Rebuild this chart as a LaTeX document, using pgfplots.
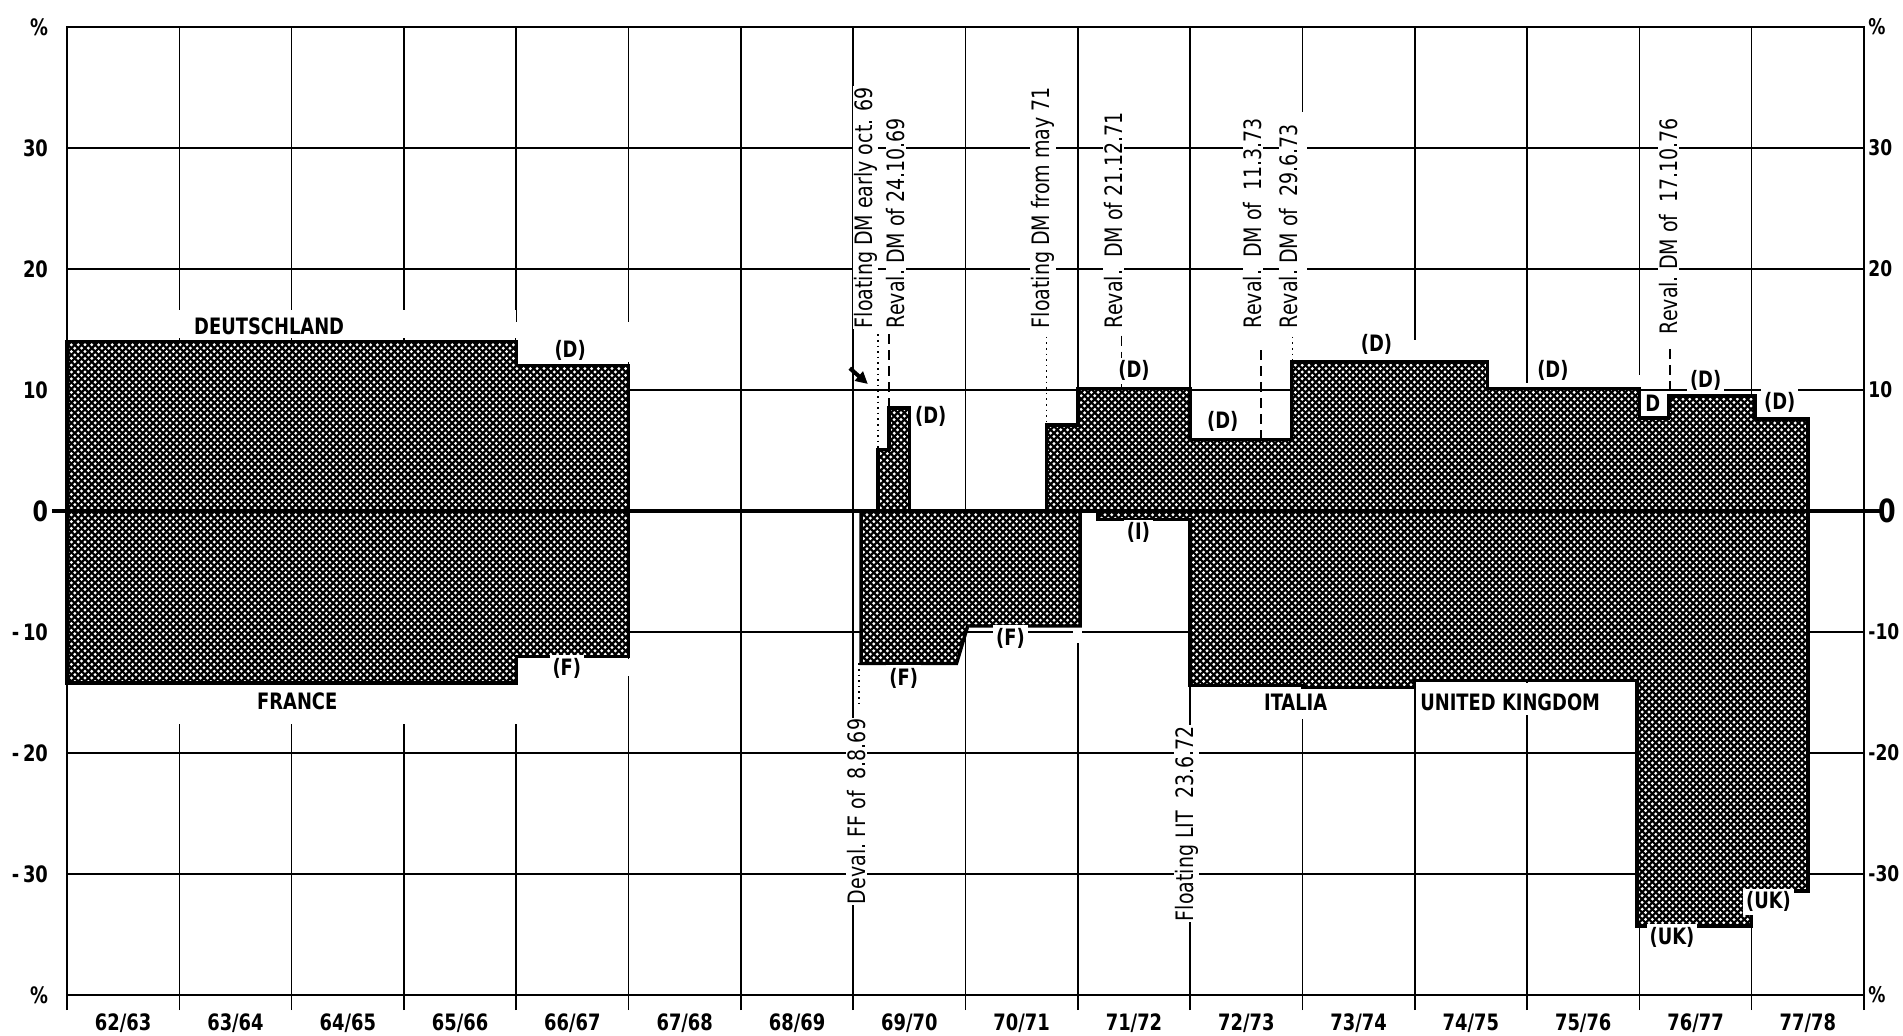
\documentclass[border=0pt]{standalone}
\usepackage{pgfplots}
\pgfplotsset{compat=1.18}
\usepackage{pgfplotstable}
\usepackage{fontspec}
\setmainfont{DejaVu Sans Condensed}[FakeStretch=0.88]
\usetikzlibrary{patterns,arrows.meta}

% white holes on black, like the screen of the original
\pgfdeclarepatternformonly{holes}{\pgfqpoint{-1.2pt}{-1.2pt}}{\pgfqpoint{4.6pt}{4.6pt}}{\pgfqpoint{3.4pt}{3.4pt}}{%
  \pgfpathcircle{\pgfqpoint{0pt}{0pt}}{0.82pt}%
  \pgfpathcircle{\pgfqpoint{1.7pt}{1.7pt}}{0.82pt}%
  \pgfusepath{fill}}

% x: years from 62/63 (0 = start of 62/63), y: %
\pgfplotstableread{
x y
0 0
0 14
4 14
4 12
5 12
5 0
0 0
}\upA
\pgfplotstableread{
x y
0 0
0 -14.2
4 -14.2
4 -12
5 -12
5 0
0 0
}\lowA
\pgfplotstableread{
x y
7.22 0
7.22 5.1
7.32 5.1
7.32 8.5
7.50 8.5
7.50 0
7.22 0
}\upB
\pgfplotstableread{
x y
7.07 0
7.07 -12.6
7.92 -12.6
8.02 -9.5
9.02 -9.5
9.02 0
7.07 0
}\lowB
\pgfplotstableread{
x y
8.72 0
8.72 7.1
9.00 7.1
9.00 10.1
10.00 10.1
10.00 5.9
10.90 5.9
10.90 12.3
12.65 12.3
12.65 10.1
14.00 10.1
14.00 7.7
14.26 7.7
14.26 9.5
15.03 9.5
15.03 7.6
15.50 7.6
15.50 0
8.72 0
}\upC
\pgfplotstableread{
x y
9.18 0
9.18 -0.7
10.00 -0.7
10.00 -14.4
11.00 -14.4
11.00 -14.6
12.00 -14.6
12.00 -14.0
13.98 -14.0
13.98 -34.3
15.00 -34.3
15.00 -31.4
15.50 -31.4
15.50 0
9.18 0
}\lowC

\pgfplotsset{
  hatch/.style={draw=none, fill=black, postaction={pattern=holes, pattern color=white}},
  edge/.style={draw=black, line width=1.7pt, line join=miter},
}
\tikzset{
  lab/.style={font=\bfseries\fontsize{11.3}{13}\selectfont, fill=white, inner sep=1.5pt},
  rot/.style={font=\mdseries\fontsize{12}{13}\selectfont, rotate=90, anchor=west, fill=white, inner sep=0.5pt},
}

\begin{document}
\begin{tikzpicture}
\useasboundingbox (0,0) rectangle (951.5pt,517.5pt);
\begin{axis}[
  at={(33.5pt,20pt)}, anchor=south west,
  width=898.5pt, height=484pt, scale only axis,
  xmin=0, xmax=16, ymin=-40, ymax=40,
  axis line style={line width=1.3pt},
  grid=major, major grid style={line width=0.8pt, black},
  xtick={0,...,16}, xticklabels={},
  extra x ticks={0.5,1.5,2.5,3.5,4.5,5.5,6.5,7.5,8.5,9.5,10.5,11.5,12.5,13.5,14.5,15.5},
  extra x tick labels={62/63,63/64,64/65,65/66,66/67,67/68,68/69,69/70,70/71,71/72,72/73,73/74,74/75,75/76,76/77,77/78},
  extra x tick style={grid=none, major tick length=0pt, xticklabel style={yshift=-6pt}},
  xtick pos=bottom, tick align=outside, major tick length=7.5pt,
  x tick style={line width=0.8pt, black},
  ytick={-40,-30,...,40},
  yticklabels={\%,-\,30,-\,20,-\,10,{\fontsize{14}{14}\selectfont 0},10,20,30,\%},
  y tick style={draw=none},
  ytick pos=left,
  yticklabel style={xshift=1.5pt},
  ticklabel style={font=\bfseries\fontsize{11.3}{13}\selectfont},
  clip=false,
]
% masks where the grid stops around the labels
\fill[white] (axis cs:0.04,14.3) rectangle (axis cs:4.0,16.6);
\fill[white] (axis cs:4.0,12.3) rectangle (axis cs:5.04,15.6);
\fill[white] (axis cs:0.04,-14.4) rectangle (axis cs:4.04,-17.6);
\fill[white] (axis cs:4.04,-12.2) rectangle (axis cs:5.04,-13.6);
\fill[white] (axis cs:8.96,-9.6) rectangle (axis cs:9.04,-10.9);
\fill[white] (axis cs:10.04,-14.6) rectangle (axis cs:11.96,-17.2);
\fill[white] (axis cs:12.04,-14.2) rectangle (axis cs:13.96,-16.9);
\fill[white] (axis cs:10.96,12.4) rectangle (axis cs:11.04,33);
\fill[white] (axis cs:11.96,12.4) rectangle (axis cs:12.04,14.1);
\fill[white] (axis cs:12.96,10.2) rectangle (axis cs:13.04,10.6);
\fill[white] (axis cs:13.96,10.2) rectangle (axis cs:14.04,11.2);

\addplot[hatch] table {\upA};
\addplot[hatch] table {\lowA};
\addplot[hatch] table {\upB};
\addplot[hatch] table {\lowB};
\addplot[hatch] table {\upC};
\addplot[hatch] table {\lowC};
\addplot[edge] table {\upA};
\addplot[edge] table {\lowA};
\addplot[edge] table {\upB};
\addplot[edge] table {\lowB};
\addplot[edge] table {\upC};
\addplot[edge] table {\lowC};

% zero line, a little beyond both axes
\draw[line width=1.7pt] ([xshift=-7.5pt]axis cs:0,0) -- ([xshift=9pt]axis cs:16,0);

% pointers from the notes to the steps
\draw[dotted, line width=0.8pt] (axis cs:7.22,14.6) -- (axis cs:7.22,5.1);
\draw[dash pattern=on 5pt off 3pt, line width=0.8pt] (axis cs:7.32,14.6) -- (axis cs:7.32,8.5);
\draw[dotted, line width=0.8pt] (axis cs:8.72,14.4) -- (axis cs:8.72,7.1);
\draw[dash pattern=on 5pt off 3pt, line width=0.8pt] (axis cs:9.39,14.5) -- (axis cs:9.39,10.1);
\draw[dash pattern=on 5pt off 3pt, line width=0.8pt] (axis cs:10.63,13.3) -- (axis cs:10.63,5.9);
\draw[dotted, line width=0.8pt] (axis cs:10.91,14.4) -- (axis cs:10.91,12.3);
\draw[dash pattern=on 5pt off 3pt, line width=0.8pt] (axis cs:14.27,13.4) -- (axis cs:14.27,7.7);
\draw[dotted, line width=0.8pt] (axis cs:7.05,-12.6) -- (axis cs:7.05,-16.3);
\draw[-{Triangle[length=6pt,width=6pt]}, line width=2pt] (axis cs:6.97,11.8) -- (axis cs:7.13,10.5);

% rotated notes
\node[rot] at (axis cs:7.11,15) {Floating DM early oct. 69};
\node[rot] at (axis cs:7.38,15) {Reval.\ DM of 24.10.69};
\node[rot] at (axis cs:8.69,15) {Floating DM from may 71};
\node[rot] at (axis cs:9.32,15) {Reval.\ \ DM of 21.12.71};
\node[rot] at (axis cs:10.56,15) {Reval.\ \ DM of \ 11.3.73};
\node[rot] at (axis cs:10.88,15) {Reval.\ DM of \ 29.6.73};
\node[rot] at (axis cs:14.26,14.5) {Reval.\ DM of \ 17.10.76};
\node[rot] at (axis cs:7.03,-32.6) {Deval.\ FF of \ 8.8.69};
\node[rot] at (axis cs:9.97,-34) {Floating LIT \ 23.6.72};

% country labels
\node[lab] at (axis cs:1.8,15.3) {DEUTSCHLAND};
\node[lab] at (axis cs:4.48,13.3) {(D)};
\node[lab] at (axis cs:2.05,-15.7) {FRANCE};
\node[lab] at (axis cs:4.45,-13.0) {(F)};
\node[lab] at (axis cs:7.69,7.8) {(D)};
\node[lab] at (axis cs:7.45,-13.8) {(F)};
\node[lab] at (axis cs:8.40,-10.5) {(F)};
\node[lab] at (axis cs:9.5,11.6) {(D)};
\node[lab] at (axis cs:9.54,-1.8) {(I)};
\node[lab] at (axis cs:10.29,7.4) {(D)};
\node[lab] at (axis cs:11.66,13.8) {(D)};
\node[lab] at (axis cs:10.94,-15.8) {ITALIA};
\node[lab] at (axis cs:12.85,-15.8) {UNITED KINGDOM};
\node[lab] at (axis cs:13.23,11.6) {(D)};
\node[lab, inner sep=0.5pt] at (axis cs:14.12,8.9) {D};
\node[lab] at (axis cs:14.59,10.8) {(D)};
\node[lab] at (axis cs:15.25,9.0) {(D)};
\node[lab] at (axis cs:14.29,-35.2) {(UK)};
\node[lab] at (axis cs:15.15,-32.3) {(UK)};
\end{axis}

% right-hand scale
\begin{axis}[
  at={(33.5pt,20pt)}, anchor=south west,
  width=898.5pt, height=484pt, scale only axis,
  xmin=0, xmax=16, ymin=-40, ymax=40,
  hide x axis, axis y line*=right,
  axis line style={line width=1.3pt},
  ytick={-40,-30,...,40},
  yticklabels={\%,-30,-20,-10,{\hspace*{5pt}\fontsize{16}{16}\selectfont 0},10,20,30,\%},
  y tick style={draw=none},
  yticklabel style={inner sep=2pt},
  ticklabel style={font=\bfseries\fontsize{10.8}{12}\selectfont},
]
\end{axis}
\end{tikzpicture}
\end{document}
